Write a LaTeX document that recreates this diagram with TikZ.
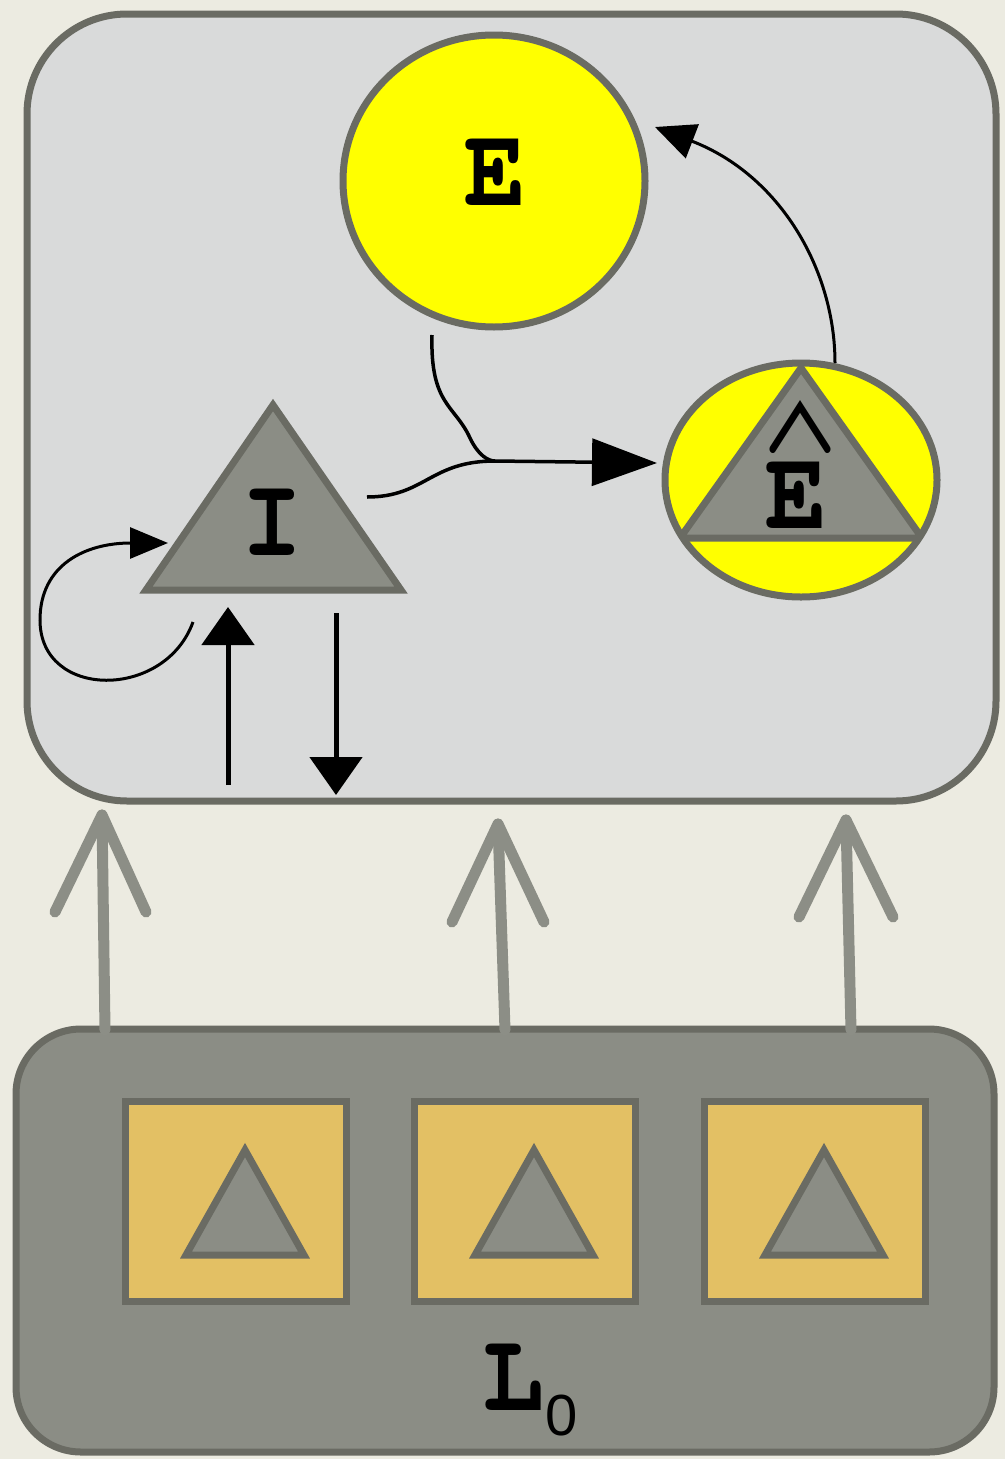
\documentclass[tikz,border=0pt]{standalone}
\usepackage{fontspec}
\usepackage{graphicx}
\usetikzlibrary{arrows.meta,shapes.geometric}
\newfontfamily\cour{TeX Gyre Cursor}[FakeStretch=0.9]
\newfontfamily\courreg{TeX Gyre Cursor}
\newfontfamily\lsans{Liberation Sans}
\definecolor{bgc}{HTML}{ECEBE1}
\definecolor{topc}{HTML}{D9DADA}
\definecolor{botc}{HTML}{8B8D85}
\definecolor{bordc}{HTML}{6A6B63}
\definecolor{goldc}{HTML}{E3C064}
\definecolor{yelc}{HTML}{FFFF00}
\definecolor{trig}{HTML}{8B8D85}
\definecolor{garr}{HTML}{8C8E86}
\begin{document}
\begin{tikzpicture}[x=1pt,y=-1pt,
  bord/.style={draw=bordc, line width=7pt},
  tri/.style={draw=bordc, line width=7pt, fill=trig, line join=miter},
  lab/.style={font=\cour\bfseries\fontsize{114}{116}\selectfont, inner sep=0pt, text=black},
  blk/.style={draw=black, line width=3.5pt},
  garrow/.style={draw=garr, line width=11pt, line cap=round, line join=round},
]
\useasboundingbox (0,0) rectangle (1005,1459);
\fill[bgc] (0,0) rectangle (1005,1459);

% boxes
\node[bord, fill=topc, rounded corners=100pt, minimum width=969pt, minimum height=787pt, inner sep=0pt] (top) at (511.5,407.5) {};
\node[bord, fill=botc, rounded corners=65pt, minimum width=978pt, minimum height=423pt, inner sep=0pt] (bot) at (505,1240.5) {};

% gold boxes with triangles
\foreach \cx/\n in {236/1,525/2,815/3}{
  \node[bord, fill=goldc, minimum width=221pt, minimum height=200pt, inner sep=0pt] (g\n) at (\cx,1201) {};
  \draw[tri] (\cx+9,1150) -- (\cx+68,1255) -- (\cx-50,1255) -- cycle;
}
\node[lab, anchor=base] (L) at (513,1410) {L};
\node[inner sep=0pt, anchor=base, font=\lsans\fontsize{58}{60}\selectfont] (sub0) at (562,1435) {0};

% grey arrows from the bottom box to the top box
\coordinate (s1) at (105,1030); \coordinate (t1) at (102,815);
\coordinate (s2) at (505,1030); \coordinate (t2) at (498,824);
\coordinate (s3) at (851,1030); \coordinate (t3) at (846,820);
\draw[garrow] (s1) -- (t1); \draw[garrow] (55,912) -- (t1) -- (146,912);
\draw[garrow] (s2) -- (t2); \draw[garrow] (452,922) -- (t2) -- (544,922);
\draw[garrow] (s3) -- (t3); \draw[garrow] (799,917) -- (t3) -- (893,917);

% E circle
\node[bord, fill=yelc, ellipse, minimum width=302pt, minimum height=292pt, inner sep=0pt] (Ec) at (494,181) {};
\node[lab] (E) at (495,172) {E};

% E-hat circle
\begin{scope}
  \clip (801,480) ellipse [x radius=136, y radius=117];
  \fill[yelc] (801,480) ellipse [x radius=136, y radius=117];
  \draw[tri] (801,368) -- (922,538) -- (680,538) -- cycle;
\end{scope}
\draw[bord] (801,480) ellipse [x radius=136, y radius=117];
\coordinate (Eh) at (801,480);
\node[lab] (Ehat) at (796,495) {E};
\node[inner sep=0pt, anchor=north] (hat) at (800,412) {\raisebox{-63pt}[50pt][0pt]{\resizebox{98pt}{125pt}{\courreg\fontsize{96}{100}\selectfont\char`\^}}};

% I triangle
\draw[tri] (273,405) -- (401,590) -- (146,590) -- cycle;
\node[lab] (I) at (272,522) {I};

% connectors
\coordinate (iout) at (367,497);
\coordinate (merge) at (495,461);
\coordinate (ehin) at (657,463);
\coordinate (eout) at (432,335);
\draw[blk, -{Triangle[length=65pt,width=47pt]}] (iout) .. controls (425,497) and (430,461) .. (merge) -- (ehin);
\draw[blk] (eout) .. controls (430,405) and (455,405) .. (470,438) .. controls (478,455) and (488,461) .. (merge);

\coordinate (ehtop) at (835,363);
\coordinate (ein) at (655,127);
\draw[line width=3pt, -{Triangle[length=40pt,width=36pt]}] (ehtop) .. controls (835,270) and (780,175) .. (ein);

\coordinate (lstart) at (193,622);
\coordinate (lend) at (168,543);
\draw[line width=3pt, -{Triangle[length=38pt,width=31pt]}] (lstart) .. controls (165,700) and (40,700) .. (40,620) .. controls (40,565) and (85,543) .. (lend);

\coordinate (u1) at (228,785); \coordinate (u2) at (228,607);
\draw[line width=5pt, -{Triangle[length=38pt,width=52pt]}] (u1) -- (u2);
\coordinate (d1) at (336,613); \coordinate (d2) at (336,795);
\draw[line width=5pt, -{Triangle[length=38pt,width=52pt]}] (d1) -- (d2);
\end{tikzpicture}
\end{document}
